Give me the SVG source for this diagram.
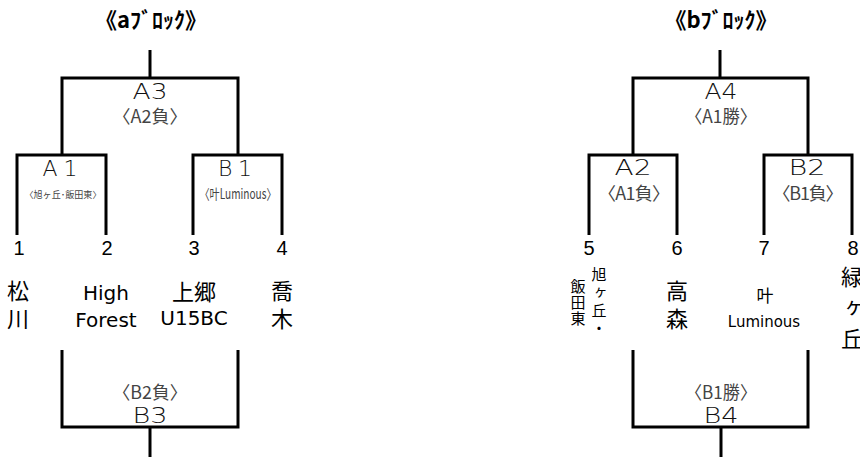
<svg xmlns="http://www.w3.org/2000/svg" width="860" height="457" viewBox="0 0 860 457">
<style>
.ln{fill:none;stroke:#000;stroke-width:3;stroke-linejoin:miter}
.ttl{font-family:"Noto Sans CJK JP",sans-serif;font-size:22px;font-weight:bold;fill:#000;text-anchor:middle}
.rd{font-family:"DejaVu Sans",sans-serif;font-size:22px;font-weight:300;fill:#111;text-anchor:middle}
.sub{font-family:"Noto Sans CJK JP",sans-serif;font-size:18px;fill:#444;text-anchor:middle}
.num{font-family:"Liberation Sans",sans-serif;font-size:20px;fill:#000;text-anchor:middle}
.jp{font-family:"Noto Sans CJK JP",sans-serif;font-size:22px;fill:#000;text-anchor:middle}
.en{font-family:"DejaVu Sans",sans-serif;font-size:20px;fill:#000;text-anchor:middle}
.vt{font-family:"Noto Sans CJK JP",sans-serif;fill:#000;writing-mode:vertical-rl;text-orientation:upright}
.v2{font-size:22px;letter-spacing:6px}
</style>
<rect width="860" height="457" fill="#fff"/>
<g id="connectors">
<path class="ln" d="M150,50V78"/>
<path class="ln" d="M62,155V78H238V155"/>
<path class="ln" d="M17,235V155H106V235"/>
<path class="ln" d="M193,235V155H282V235"/>
<path class="ln" d="M62,350V427H238V350"/>
<path class="ln" d="M150,427V457"/>
<path class="ln" d="M720,50V78"/>
<path class="ln" d="M633,155V78H808V155"/>
<path class="ln" d="M589,235V155H677V235"/>
<path class="ln" d="M764,235V155H852V235"/>
<path class="ln" d="M633,350V427H808V350"/>
<path class="ln" d="M721,427V457"/>
</g>
<g id="title-a"><text class="ttl" x="151" y="28">《aﾌﾞﾛｯｸ》</text></g>
<g id="title-b"><text class="ttl" x="721" y="28">《bﾌﾞﾛｯｸ》</text></g>
<g id="match-A3">
<text class="rd" x="150" y="99" textLength="35" lengthAdjust="spacingAndGlyphs">A3</text>
<text class="sub" x="150" y="123" textLength="75" lengthAdjust="spacingAndGlyphs">〈A2負〉</text>
</g>
<g id="match-A1">
<text class="rd" x="60" y="176" textLength="35" lengthAdjust="spacing">A1</text>
<text class="sub" x="63" y="198" style="font-size:9px" textLength="77" lengthAdjust="spacingAndGlyphs">〈旭ヶ丘･飯田東〉</text>
</g>
<g id="match-B1">
<text class="rd" x="235" y="176" textLength="34" lengthAdjust="spacing">B1</text>
<text class="sub" x="238" y="199" style="font-size:14px" textLength="77" lengthAdjust="spacingAndGlyphs">〈叶Luminous〉</text>
</g>
<g id="match-B3">
<text class="sub" x="150" y="399" textLength="75" lengthAdjust="spacingAndGlyphs">〈B2負〉</text>
<text class="rd" x="150" y="423" textLength="35" lengthAdjust="spacingAndGlyphs">B3</text>
</g>
<g id="match-A4">
<text class="rd" x="721" y="99" textLength="33" lengthAdjust="spacingAndGlyphs">A4</text>
<text class="sub" x="721" y="123" textLength="72" lengthAdjust="spacingAndGlyphs">〈A1勝〉</text>
</g>
<g id="match-A2">
<text class="rd" x="633" y="175" textLength="37" lengthAdjust="spacingAndGlyphs">A2</text>
<text class="sub" x="634" y="200" textLength="72" lengthAdjust="spacing">〈A1負〉</text>
</g>
<g id="match-B2">
<text class="rd" x="807" y="175" textLength="37" lengthAdjust="spacingAndGlyphs">B2</text>
<text class="sub" x="808" y="200" textLength="71" lengthAdjust="spacing">〈B1負〉</text>
</g>
<g id="match-B4">
<text class="sub" x="721" y="399" textLength="72" lengthAdjust="spacingAndGlyphs">〈B1勝〉</text>
<text class="rd" x="721" y="423" textLength="35" lengthAdjust="spacingAndGlyphs">B4</text>
</g>
<g id="team-1">
<text class="num" x="19" y="255">1</text>
<text class="vt v2" x="18" y="280">松川</text>
</g>
<g id="team-2">
<text class="num" x="107" y="255">2</text>
<text class="en" x="106" y="300">High</text>
<text class="en" x="106" y="327">Forest</text>
</g>
<g id="team-3">
<text class="num" x="194" y="255">3</text>
<text class="jp" x="194" y="300">上郷</text>
<text class="en" x="194" y="325">U15BC</text>
</g>
<g id="team-4">
<text class="num" x="282" y="255">4</text>
<text class="vt v2" x="282" y="280">喬木</text>
</g>
<g id="team-5">
<text class="num" x="589" y="255">5</text>
<text class="vt" x="599" y="267" style="font-size:15px;letter-spacing:3px">旭ヶ丘・</text>
<text class="vt" x="578" y="279" style="font-size:15px;letter-spacing:1px">飯田東</text>
</g>
<g id="team-6">
<text class="num" x="677" y="255">6</text>
<text class="vt v2" x="677" y="280">高森</text>
</g>
<g id="team-7">
<text class="num" x="764" y="255">7</text>
<text class="jp" x="765" y="302" style="font-size:17px">叶</text>
<text class="en" x="764" y="327" style="font-size:15px">Luminous</text>
</g>
<g id="team-8">
<text class="num" x="853" y="255">8</text>
<text class="vt" x="852" y="266" style="font-size:22px;letter-spacing:9px">緑ヶ丘</text>
</g>
</svg>
